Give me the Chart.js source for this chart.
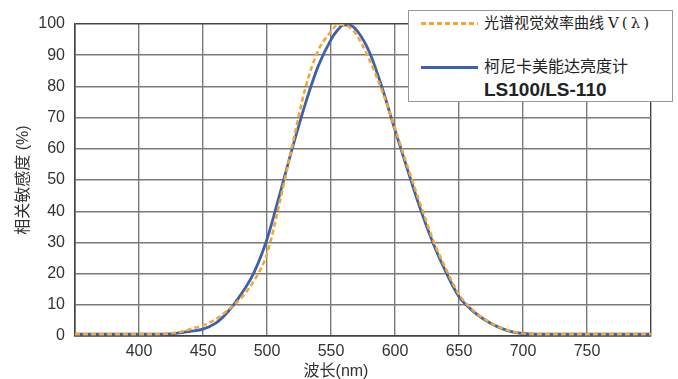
<!DOCTYPE html>
<html>
<head>
<meta charset="utf-8">
<script src="https://cdn.jsdelivr.net/npm/chart.js@4.4.1/dist/chart.umd.min.js"></script>
<style>
  body { margin: 0; background: #fff; }
  #wrap { position: relative; width: 678px; height: 379px; }
  #xtitle {
    position: absolute; left: 0; width: 672px; top: 357px; text-align: center;
    font: 16px "Liberation Sans", "Noto Sans CJK SC", sans-serif; color: #333;
  }
  #legend {
    position: absolute; left: 408px; top: 10px; width: 265px; height: 92px;
    box-sizing: border-box; border: 1px solid #999; background: #fff;
    font-family: "Liberation Sans", "Noto Sans CJK SC", sans-serif; color: #222;
  }
  #legend .sample { position: absolute; left: 12px; width: 57px; height: 3px; }
  #legend .dash { background: repeating-linear-gradient(to right, #f4a733 0 5px, transparent 5px 8px); }
  #legend .solid { background: #3d62ad; }
  #legend .txt { position: absolute; left: 75px; font-size: 16px; line-height: 20px; white-space: nowrap; }
  #legend .vl { font-family: "DejaVu Serif", serif; letter-spacing: 3px; margin-left: 4px; }
</style>
</head>
<body>
<div id="wrap">
  <canvas id="chart" width="678" height="379"></canvas>
  <div id="xtitle">波长(nm)</div>
  <div id="legend">
    <div class="sample dash" style="top:11px"></div>
    <div class="txt" style="top:2px;font-size:15px">光谱视觉效率曲线<span class="vl">V(λ)</span></div>
    <div class="sample solid" style="top:55px"></div>
    <div class="txt" style="top:46px">柯尼卡美能达亮度计</div>
    <div class="txt" style="top:69px;font-weight:bold;font-size:19px">LS100/LS-110</div>
  </div>
</div>
<script>
// wavelength (nm)
const wavelengths = [350, 360, 370, 380, 390, 400, 410, 420, 430, 440, 450, 460, 470, 480, 490,
  500, 510, 520, 530, 540, 550, 555, 560, 565, 570, 580, 590, 600, 610, 620, 630, 640, 650,
  660, 670, 680, 690, 700, 710, 720, 730, 740, 750, 760, 770, 780, 790, 800];

// V(lambda) curve, relative %
const vLambda = [0.6, 0.6, 0.6, 0.6, 0.6, 0.6, 0.6, 0.7, 1.1, 2.2, 3.4, 5.4, 8.5, 12.3, 17.8,
  26.3, 43, 61.5, 79.5, 91.5, 97.6, 99.7, 99.8, 98.8, 96.5, 88.5, 78.5, 66.5, 54, 42, 30.5, 21.3, 13.3,
  8.6, 5.4, 3.1, 1.6, 0.8, 0.6, 0.6, 0.6, 0.6, 0.6, 0.6, 0.6, 0.6, 0.6, 0.6];

// LS100/LS-110 meter response, relative %
const ls100 = [0.6, 0.6, 0.6, 0.6, 0.6, 0.6, 0.6, 0.6, 0.9, 1.5, 2.2, 4.1, 8.0, 13.5, 20.5,
  31, 45.5, 60.5, 74.5, 86.5, 95, 98, 99.7, 99.6, 98, 91, 79.5, 66, 53, 40.5, 29.5, 20.3, 12.6,
  8.3, 5.2, 3.0, 1.5, 0.8, 0.6, 0.6, 0.6, 0.6, 0.6, 0.6, 0.6, 0.6, 0.6, 0.6];

const xTickLabels = [400, 450, 500, 550, 600, 650, 700, 750];

const FONT = '"Liberation Sans", "Noto Sans CJK SC", sans-serif';
const toPoints = (ys) => wavelengths.map((x, i) => ({ x: x, y: ys[i] }));

const gridColor = (edgeValues) => (ctx) =>
  edgeValues.includes(ctx.tick && ctx.tick.value) ? '#444' : '#7a7a7a';

new Chart(document.getElementById('chart'), {
  type: 'line',
  data: {
    datasets: [
      {
        label: '光谱视觉效率曲线 V(λ)',
        data: toPoints(vLambda),
        borderColor: '#f4a733',
        borderWidth: 2.6,
        borderDash: [5, 3],
        pointRadius: 0,
        cubicInterpolationMode: 'monotone',
        order: 0,
      },
      {
        label: '柯尼卡美能达亮度计 LS100/LS-110',
        data: toPoints(ls100),
        borderColor: '#3d62ad',
        borderWidth: 2.8,
        pointRadius: 0,
        cubicInterpolationMode: 'monotone',
        order: 1,
      },
    ],
  },
  options: {
    responsive: false,
    animation: false,
    layout: { padding: { left: 0, top: 24, right: 27, bottom: 0 } },
    plugins: { legend: { display: false }, tooltip: { enabled: false } },
    scales: {
      x: {
        type: 'linear',
        min: 350,
        max: 800,
        afterFit: (s) => { s.height = 43; },
        grid: { color: gridColor([350, 800]), lineWidth: 1.4, drawTicks: false },
        border: { color: '#444', width: 1.5 },
        ticks: {
          stepSize: 50,
          padding: 6,
          color: '#333',
          font: { family: FONT, size: 16 },
          maxRotation: 0,
          callback: (v) => (xTickLabels.includes(v) ? String(v) : ''),
        },
      },
      y: {
        min: 0,
        max: 100,
        afterFit: (s) => { s.width = 75; },
        grid: { color: gridColor([0, 100]), lineWidth: 1.4, drawTicks: false },
        border: { color: '#444', width: 1.5 },
        ticks: {
          stepSize: 10,
          padding: 10,
          color: '#333',
          font: { family: FONT, size: 16 },
        },
        title: {
          display: true,
          text: '相关敏感度 (%)',
          color: '#333',
          font: { family: FONT, size: 16 },
          padding: { top: 14, bottom: 0 },
        },
      },
    },
  },
});
</script>
</body>
</html>
